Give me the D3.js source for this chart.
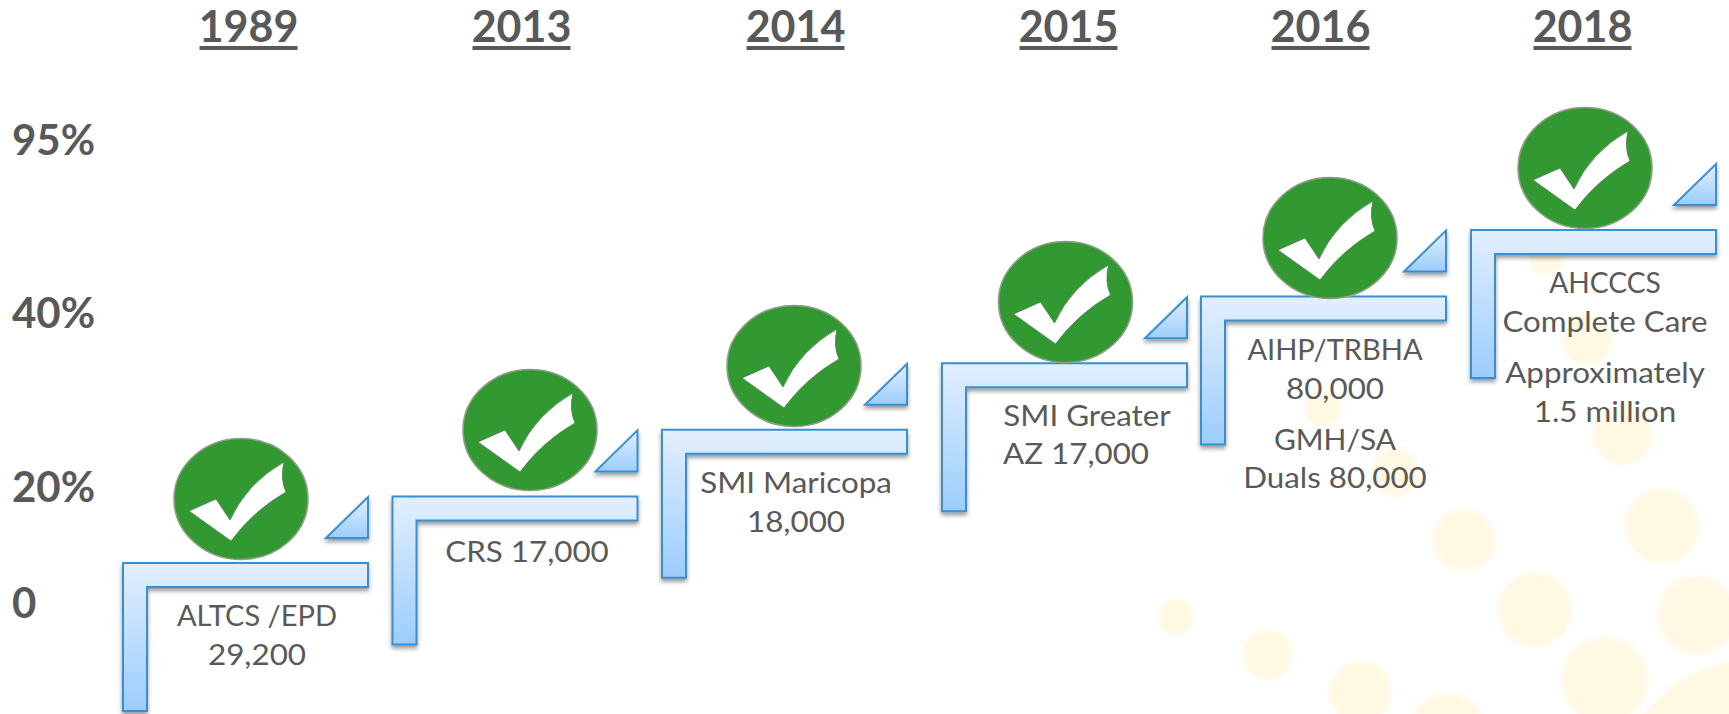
<!DOCTYPE html>
<html lang="en">
<head>
<meta charset="UTF-8">
<title>Integration timeline</title>
<script src="https://d3js.org/d3.v7.min.js"></script>
<style>
    html, body { margin: 0; padding: 0; background: #fff; }
    svg { display: block; font-family: Lato, sans-serif; }
    .year text { font-family: Lato, sans-serif; font-size: 43px; font-weight: 700; fill: #595959; }
    .pct text { font-family: Lato, sans-serif; font-size: 42px; font-weight: 700; fill: #595959; }
    .note { font-size: 28.5px; fill: #595959; text-anchor: middle; }
</style>
</head>
<body>
<div id="chart"></div>
<script>
// top labels and left labels
const years = ["1989", "2013", "2014", "2015", "2016", "2018"];
const pctTicks = [0, 20, 40, 95];
// text under each step
const stepNotes = [
    ["ALTCS /EPD", "29,200"],
    ["CRS 17,000"],
    ["SMI Maricopa", "18,000"],
    ["SMI Greater", "AZ 17,000"],
    ["AIHP/TRBHA", "80,000", "GMH/SA", "Duals 80,000"],
    ["AHCCCS", "Complete Care", "Approximately", "1.5 million"]
];

const width = 1729, height = 714;

// the slide is not evenly spaced, so these are ordinal
const xYear = d3.scaleOrdinal(years, [248, 521, 795, 1068, 1320, 1582]);
const xStep = d3.scaleOrdinal(years, [123, 392.5, 662, 942, 1201, 1471]);
const xNote = d3.scaleOrdinal(years, [257, 527, 796, 1087, 1335, 1605]);
const xBall = d3.scaleOrdinal(years, [241, 530, 794, 1065.5, 1330, 1585]);
const yBall = d3.scaleOrdinal(years, [499, 430, 366, 302, 238, 168]);
const yStep = d3.scalePoint(years, [563, 230]);
const yPct = d3.scaleLinear().domain(pctTicks).range([617, 501, 327, 154]);

// baseline of each note line, measured down from the step top
const noteOffsets = [
    [63, 102],
    [66],
    [63, 102],
    [63, 101],
    [63, 102, 153, 191],
    [63, 102, 153, 192]
];
const noteNudge = { "AZ 17,000": -11 };
// Lato is narrower than Calibri in lower case and wider in capitals
const noteWiden = { "ALTCS /EPD": 1.02, "AIHP/TRBHA": 1.02, "AHCCCS": 0.99, "GMH/SA": 1.05 };

// pale dots of the slide background
const blobs = [
    [1176, 617, 18], [1268, 655, 25], [1360, 692, 31], [1448, 730, 37],
    [1323, 408, 18], [1395, 473, 24], [1464, 540, 31], [1535, 610, 37],
    [1605, 680, 43], [1547, 258, 17], [1587, 340, 25], [1623, 435, 30],
    [1662, 526, 37], [1697, 615, 39], [1750, 790, 130]
];

const stepW = 245, stepH = 148, arm = 24;

const svg = d3.select("#chart").append("svg")
    .attr("width", width)
    .attr("height", height);

const defs = svg.append("defs");

const grad = defs.append("linearGradient").attr("id", "stepFill")
    .attr("x1", 0).attr("y1", 0).attr("x2", 0).attr("y2", 1);
grad.append("stop").attr("offset", "0%").attr("stop-color", "#e2effd");
grad.append("stop").attr("offset", "100%").attr("stop-color", "#9ccdfc");

const shadow = defs.append("filter").attr("id", "shadow")
    .attr("x", "-10%").attr("y", "-10%").attr("width", "120%").attr("height", "130%");
shadow.append("feDropShadow").attr("dx", 0).attr("dy", 3).attr("stdDeviation", 2)
    .attr("flood-color", "#000").attr("flood-opacity", 0.4);

const soft = defs.append("filter").attr("id", "soft")
    .attr("x", "-10%").attr("y", "-10%").attr("width", "120%").attr("height", "120%");
soft.append("feGaussianBlur").attr("stdDeviation", 0.7);

const blur = defs.append("filter").attr("id", "blobBlur");
blur.append("feGaussianBlur").attr("stdDeviation", 2);

// background
svg.append("g").attr("filter", "url(#blobBlur)")
    .selectAll("circle")
    .data(blobs)
    .enter()
    .append("circle")
    .attr("cx", d => d[0])
    .attr("cy", d => d[1])
    .attr("r", d => d[2])
    .attr("fill", "#fff8e3");

// L shape of one step
const stepPath = d3.path();
stepPath.moveTo(0, 0);
stepPath.lineTo(stepW, 0);
stepPath.lineTo(stepW, arm);
stepPath.lineTo(arm, arm);
stepPath.lineTo(arm, stepH);
stepPath.lineTo(0, stepH);
stepPath.closePath();

// small corner triangle
const triPath = d3.path();
triPath.moveTo(stepW, -66);
triPath.lineTo(stepW, -25);
triPath.lineTo(stepW - 42, -25);
triPath.closePath();

// tick mark, around the circle centre
const tickPath = d3.path();
tickPath.moveTo(-52, 12);
tickPath.lineTo(-25, 0);
tickPath.lineTo(-11, 21);
tickPath.quadraticCurveTo(6, -16, 43, -37);
tickPath.quadraticCurveTo(39, -20, 45, -7);
tickPath.quadraticCurveTo(12, 12, -10, 42);
tickPath.closePath();

const steps = svg.selectAll(".step")
    .data(years)
    .enter()
    .append("g")
    .attr("class", "step");

steps.append("path")
    .attr("transform", d => `translate(${xStep(d)},${yStep(d)})`)
    .attr("d", stepPath.toString())
    .attr("fill", "url(#stepFill)")
    .attr("stroke", "#3b8fd0")
    .attr("stroke-width", 2)
    .attr("filter", "url(#shadow)");

steps.append("path")
    .attr("transform", d => `translate(${xStep(d)},${yStep(d)})`)
    .attr("d", triPath.toString())
    .attr("fill", "url(#stepFill)")
    .attr("stroke", "#3b8fd0")
    .attr("stroke-width", 2)
    .attr("filter", "url(#shadow)");

const balls = steps.append("g")
    .attr("transform", d => `translate(${xBall(d)},${yBall(d)})`);

balls.append("ellipse")
    .attr("rx", 67)
    .attr("ry", 60.5)
    .attr("fill", "#339933")
    .attr("stroke", "#8f9f85")
    .attr("stroke-width", 1.6)
    .attr("filter", "url(#soft)");

balls.append("path")
    .attr("d", tickPath.toString())
    .attr("fill", "#fff")
    .attr("stroke", "#4f7f4f")
    .attr("stroke-width", 0.8)
    .attr("filter", "url(#soft)");

// notes under the steps, Lato widened a bit to get the Calibri proportions
steps.each(function (d, i) {
    d3.select(this).selectAll(".note")
        .data(stepNotes[i])
        .enter()
        .append("text")
        .attr("class", "note")
        .attr("transform", (t, j) => `translate(${xNote(d) + (noteNudge[t] || 0)},${yStep(d) + noteOffsets[i][j]}) scale(${noteWiden[t] || 1.1},1)`)
        .text(t => t);
});

// year headers
const yearAxis = svg.append("g")
    .attr("class", "year")
    .attr("transform", "translate(0,42)")
    .call(d3.axisTop(xYear).tickSize(0).tickPadding(0));
yearAxis.select(".domain").remove();
yearAxis.selectAll(".tick").append("line")
    .attr("x1", -49).attr("x2", 49)
    .attr("y1", 6).attr("y2", 6)
    .attr("stroke", "#595959")
    .attr("stroke-width", 4);

// percent labels
const pctAxis = svg.append("g")
    .attr("class", "pct")
    .call(d3.axisLeft(yPct).tickValues(pctTicks).tickSize(0).tickFormat(d => d ? `${d}%` : "0"));
pctAxis.select(".domain").remove();
pctAxis.selectAll("text")
    .attr("x", 12)
    .attr("dy", 0)
    .attr("text-anchor", "start");
</script>
</body>
</html>
